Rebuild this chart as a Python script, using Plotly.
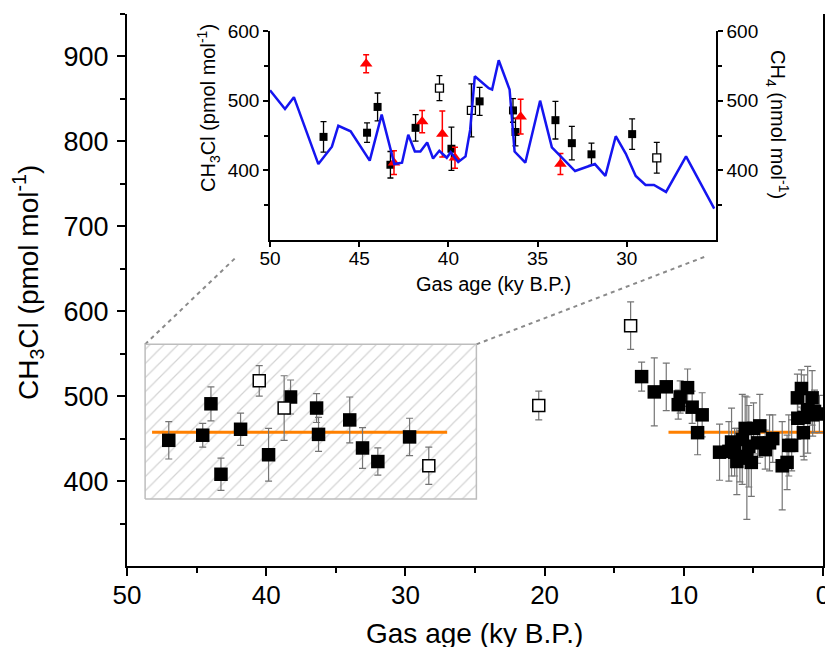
import plotly.graph_objects as go

# ---------------- data ----------------
# Glacial samples (filled squares)
GLACIAL_AGE = [47.0, 44.56, 43.97, 43.25, 41.84, 39.83, 38.25, 36.38, 36.24, 34.0, 33.08, 31.98, 29.7]
GLACIAL_CH3CL = [448, 454, 491, 408, 461, 431, 499, 486, 455, 472, 439, 423, 452]
GLACIAL_ERR = [22, 14, 20, 19, 19, 31, 20, 17, 20, 27, 24, 16, 22]

# Open squares
OPEN_AGE = [40.5, 38.71, 28.32, 20.42, 13.82]
OPEN_CH3CL = [518, 486, 418, 489, 583]
OPEN_ERR = [18, 38, 22, 17, 28]

# Holocene samples (filled squares)
HOLO_AGE = [13.03, 12.12, 11.26, 10.40, 10.26, 9.73, 9.40, 9.01, 8.68, 7.43,
            6.76, 6.57, 6.35, 6.19, 5.97, 5.80, 5.59, 5.47, 5.33, 5.15,
            4.99, 4.70, 4.54, 4.15, 3.84, 3.61, 2.93, 2.58, 2.46, 2.25,
            1.84, 1.81, 1.55, 1.41, 1.36, 1.10, 0.78, 0.74, 0.61, 0.26]
HOLO_CH3CL = [523, 505, 511, 490, 499, 510, 487, 457, 478, 434,
              435, 446, 434, 423, 429, 449, 462, 427, 441, 422,
              462, 445, 465, 437, 445, 450, 418, 422, 442, 442,
              498, 474, 509, 457, 475, 484, 498, 478, 482, 479]
HOLO_ERR = [17, 40, 28, 17, 19, 22, 19, 26, 26, 33,
            35, 40, 28, 39, 30, 53, 38, 72, 48, 40,
            30, 24, 37, 23, 33, 28, 52, 32, 36, 30,
            28, 25, 22, 28, 50, 51, 32, 25, 25, 22]

# Red triangles (inset only)
RED_AGE = [44.61, 43.05, 41.47, 40.34, 39.63, 35.95, 33.72]
RED_CH3CL = [553, 411, 470, 452, 418, 477, 409]
RED_ERR = [13, 17, 16, 33, 15, 25, 15]

# CH4 record (inset, right axis)
CH4_AGE = [50.0, 49.16, 48.66, 47.29, 46.53, 46.17, 45.48, 44.41, 43.74, 43.03,
           42.6, 42.25, 41.88, 41.57, 41.19, 40.86, 40.51, 40.09, 39.87, 39.45,
           39.04, 38.78, 38.52, 37.74, 37.55, 37.18, 36.57, 36.29, 35.69, 34.86,
           34.2, 32.9, 31.79, 31.2, 30.62, 30.06, 29.5, 28.95, 28.48, 27.8,
           26.68, 25.1]
CH4_VAL = [515, 488, 505, 409, 434, 464, 456, 414, 480, 409,
           411, 451, 427, 427, 440, 417, 428, 418, 426, 412,
           420, 458, 535, 518, 516, 558, 516, 427, 411, 500,
           433, 399, 409, 392, 449, 424, 392, 379, 379, 369,
           420, 345]

# Mean levels (orange lines)
MEAN_GLACIAL_AGE = [48.2, 27.0]
MEAN_HOLO_AGE = [11.1, 0.0]
MEAN_CH3CL = 457.5

# Zoom box and connector lines (main axes data coords)
BOX_AGE = [48.7, 24.9]
BOX_CH3CL = [379, 561]
CONNECT_LEFT = [(48.7, 561), (42.2, 663)]
CONNECT_RIGHT = [(24.9, 561), (8.36, 665)]

# Axis ticks
MAIN_X_TICKS = [50, 40, 30, 20, 10, 0]
MAIN_X_MINOR = [45, 35, 25, 15, 5]
MAIN_Y_TICKS = [400, 500, 600, 700, 800, 900]
MAIN_Y_MINOR = [350, 450, 550, 650, 750, 850, 950]
INSET_X_TICKS = [50, 45, 40, 35, 30]
INSET_Y_TICKS = [400, 500, 600]
INSET_Y_MINOR = [350, 450, 550]

# ---------------- figure ----------------
fig = go.Figure()

# hatched zoom box
fig.add_trace(go.Scatter(
    x=[BOX_AGE[0], BOX_AGE[1], BOX_AGE[1], BOX_AGE[0], BOX_AGE[0]],
    y=[BOX_CH3CL[0], BOX_CH3CL[0], BOX_CH3CL[1], BOX_CH3CL[1], BOX_CH3CL[0]],
    mode="lines", fill="toself",
    fillcolor="white",
    fillpattern=dict(shape="/", fgcolor="#a8a8a8", bgcolor="white", size=10, solidity=0.12),
    line=dict(color="#bdbdbd", width=1.5),
    hoverinfo="skip", xaxis="x", yaxis="y"))

# orange mean lines
fig.add_trace(go.Scatter(x=MEAN_GLACIAL_AGE, y=[MEAN_CH3CL] * 2, mode="lines",
                         line=dict(color="#ff8000", width=3), xaxis="x", yaxis="y"))
fig.add_trace(go.Scatter(x=MEAN_HOLO_AGE, y=[MEAN_CH3CL] * 2, mode="lines",
                         line=dict(color="#ff8000", width=3), xaxis="x", yaxis="y"))

err_main = dict(type="data", visible=True, color="#757575", thickness=1.2, width=3.5)

fig.add_trace(go.Scatter(x=GLACIAL_AGE, y=GLACIAL_CH3CL, mode="markers",
                         error_y=dict(array=GLACIAL_ERR, **err_main),
                         marker=dict(symbol="square", size=13.5, color="black", line=dict(width=0)),
                         xaxis="x", yaxis="y"))
fig.add_trace(go.Scatter(x=HOLO_AGE, y=HOLO_CH3CL, mode="markers",
                         error_y=dict(array=HOLO_ERR, **err_main),
                         marker=dict(symbol="square", size=13.5, color="black", line=dict(width=0)),
                         xaxis="x", yaxis="y"))
fig.add_trace(go.Scatter(x=OPEN_AGE, y=OPEN_CH3CL, mode="markers",
                         error_y=dict(array=OPEN_ERR, **err_main),
                         marker=dict(symbol="square", size=12, color="white",
                                     line=dict(width=1.5, color="black")),
                         xaxis="x", yaxis="y"))

# ---------------- inset ----------------
fig.add_trace(go.Scatter(x=CH4_AGE, y=CH4_VAL, mode="lines",
                         line=dict(color="#1515f0", width=2.5), xaxis="x2", yaxis="y3"))

err_in = dict(type="data", visible=True, color="black", thickness=1.3, width=3)
fig.add_trace(go.Scatter(x=GLACIAL_AGE, y=GLACIAL_CH3CL, mode="markers",
                         error_y=dict(array=GLACIAL_ERR, **err_in),
                         marker=dict(symbol="square", size=8, color="black", line=dict(width=0)),
                         xaxis="x2", yaxis="y2"))
open_in = [(a, v, e) for a, v, e in zip(OPEN_AGE, OPEN_CH3CL, OPEN_ERR) if a >= 25]
fig.add_trace(go.Scatter(x=[o[0] for o in open_in], y=[o[1] for o in open_in], mode="markers",
                         error_y=dict(array=[o[2] for o in open_in], **err_in),
                         marker=dict(symbol="square", size=8, color="white",
                                     line=dict(width=1.3, color="black")),
                         xaxis="x2", yaxis="y2"))
fig.add_trace(go.Scatter(x=RED_AGE, y=RED_CH3CL, mode="markers",
                         error_y=dict(array=RED_ERR, type="data", visible=True,
                                      color="red", thickness=1.5, width=3),
                         marker=dict(symbol="triangle-up", size=11, color="red", line=dict(width=0)),
                         xaxis="x2", yaxis="y2"))

# connector lines
shapes = []
for (p0, p1) in [CONNECT_LEFT, CONNECT_RIGHT]:
    shapes.append(dict(type="line", xref="x", yref="y", x0=p0[0], y0=p0[1], x1=p1[0], y1=p1[1],
                       line=dict(color="#8a8a8a", width=2, dash="4px,4px"), layer="below"))

# geometry: page margin is removed, so figure pixels == screen pixels
W, H = 825, 647
ML, MT = 127, 14           # plot area x 127..823, y 14..566
MR = W - 823
MB = H - 566
PW, PH = W - ML - MR, H - MT - MB


def px(xs):
    return (xs - ML) / PW


def py(ys):
    return (H - MB - ys) / PH


inset_xdom = [px(270), px(716)]
inset_ydom = [py(240), py(31)]

FONT = "Liberation Sans, Arial, sans-serif"

axis_main = dict(showgrid=False, zeroline=False, showline=True, linecolor="black", linewidth=2,
                 ticks="outside", tickcolor="black", tickwidth=2, ticklen=8, automargin=False)
axis_in = dict(showgrid=False, zeroline=False, showline=True, linecolor="black", linewidth=1.5,
               ticks="outside", tickcolor="black", tickwidth=1.5, ticklen=5, automargin=False,
               tickfont=dict(size=19, family=FONT, color="black"))

fig.update_layout(
    width=W, height=H,
    margin=dict(l=ML, r=MR, t=MT, b=MB, pad=0, autoexpand=False),
    plot_bgcolor="white", paper_bgcolor="white",
    showlegend=False,
    font=dict(family=FONT, color="black"),
    xaxis=dict(range=[50, 0], tickvals=MAIN_X_TICKS, domain=[0, 1], anchor="y",
               tickfont=dict(size=26), ticklabelstandoff=-3, ticklabeloverflow="allow",
               minor=dict(tickvals=MAIN_X_MINOR, ticks="outside", ticklen=5, tickwidth=2, tickcolor="black"),
               **axis_main),
    yaxis=dict(range=[300, 950], tickvals=MAIN_Y_TICKS, domain=[0, 1], anchor="x", mirror="ticks",
               tickfont=dict(size=27), ticklabelstandoff=3,
               minor=dict(tickvals=MAIN_Y_MINOR, ticks="outside", ticklen=5, tickwidth=2, tickcolor="black"),
               **axis_main),
    xaxis2=dict(range=[50, 25], tickvals=INSET_X_TICKS, domain=inset_xdom, anchor="y2",
                ticklabelstandoff=-5, **axis_in),
    yaxis2=dict(range=[300, 600], tickvals=INSET_Y_TICKS, domain=inset_ydom, anchor="x2",
                minor=dict(tickvals=INSET_Y_MINOR, ticks="outside", ticklen=4, tickwidth=1.5, tickcolor="black"),
                **axis_in),
    yaxis3=dict(range=[300, 600], tickvals=INSET_Y_TICKS, overlaying="y2", side="right", anchor="x2",
                minor=dict(tickvals=INSET_Y_MINOR, ticks="outside", ticklen=4, tickwidth=1.5, tickcolor="black"),
                **axis_in),
    shapes=shapes,
    annotations=[
        dict(text="CH<sub>3</sub>Cl (pmol mol<sup>-1</sup>)", xref="paper", yref="paper",
             x=px(28), y=py(283), textangle=-90, showarrow=False,
             font=dict(size=28), xanchor="center", yanchor="middle"),
        dict(text="Gas age (ky B.P.)", xref="paper", yref="paper",
             x=px(474), y=py(633), showarrow=False,
             font=dict(size=28), xanchor="center", yanchor="middle"),
        dict(text="Gas age (ky B.P.)", xref="paper", yref="paper",
             x=px(493), y=py(284), showarrow=False,
             font=dict(size=20), xanchor="center", yanchor="middle"),
        dict(text="CH<sub>3</sub>Cl (pmol mol<sup>-1</sup>)", xref="paper", yref="paper",
             x=px(209), y=py(108), textangle=-90, showarrow=False,
             font=dict(size=20), xanchor="center", yanchor="middle"),
        dict(text="CH<sub>4</sub> (nmol mol<sup>-1</sup>)", xref="paper", yref="paper",
             x=px(778), y=py(124), textangle=90, showarrow=False,
             font=dict(size=20), xanchor="center", yanchor="middle"),
    ],
)

fig.write_html(
    "out.html",
    config={"displayModeBar": False},
    post_script="document.body.style.margin='0';document.documentElement.style.overflow='hidden';",
)
